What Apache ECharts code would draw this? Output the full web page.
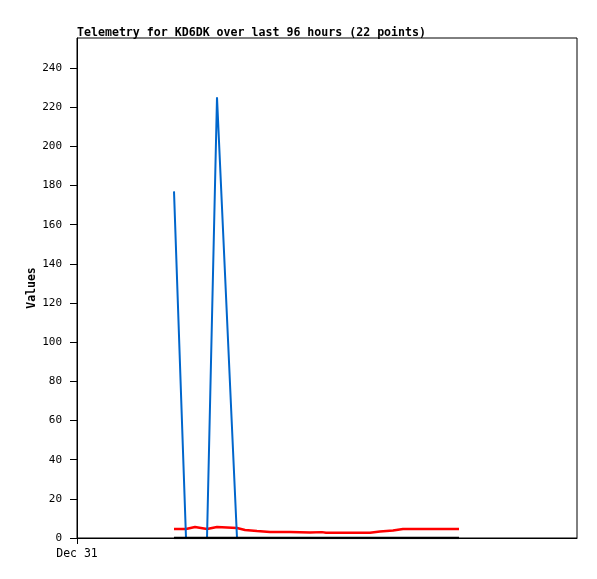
<!DOCTYPE html>
<html><head><meta charset="utf-8">
<script src="https://cdn.jsdelivr.net/npm/echarts@6/dist/echarts.min.js"></script>
<style>html,body{margin:0;padding:0;background:#fff}#c{width:597px;height:579px}</style>
</head><body><div id="c"></div>
<script>
// hours since Dec 31 00:00
const hours = [24.25, 27.25, 29.5, 32.5, 35, 40, 42, 45, 48.25, 53.25, 58.25, 61.25, 62.25, 68.25, 73.25, 75.75, 79, 81.5, 85.75, 90.75, 93.25, 95.5];
const blueValues = [177, 0, 0, 0, 225, 0, 0, 0, 0, 0, 0, 0, 0, 0, 0, 0, 0, 0, 0, 0, 0, 0];
const redValues = [4.6, 4.6, 5.6, 4.6, 5.6, 5.1, 4.1, 3.6, 3.1, 3.1, 2.8, 3.0, 2.7, 2.7, 2.7, 3.3, 3.8, 4.6, 4.6, 4.6, 4.6, 4.6];
const blackValues = [0, 0, 0, 0, 0, 0, 0, 0, 0, 0, 0, 0, 0, 0, 0, 0, 0, 0, 0, 0, 0, 0];
const xTickLabels = {0: 'Dec 31'};

const zip = v => hours.map((h, i) => [h, v[i]]);
const font = 'DejaVu Sans Mono';
const chart = echarts.init(document.getElementById('c'));
chart.setOption({
  animation: false,
  title: {text: 'Telemetry for KD6DK over last 96 hours (22 points)', left: 72, top: 22,
    textStyle: {fontFamily: font, fontSize: 11.6, fontWeight: 'bold', color: '#000'}},
  grid: {left: 77, top: 38, width: 500, height: 500, show: true, borderColor: '#000', borderWidth: 1, containLabel: false},
  xAxis: {type: 'value', min: 0, max: 125, interval: 125,
    axisLine: {lineStyle: {color: '#000', width: 1}},
    axisTick: {show: true, length: 6, customValues: [0], lineStyle: {color: '#000'}},
    splitLine: {show: false},
    axisLabel: {customValues: [0], formatter: v => xTickLabels[v] || '', fontFamily: font, fontSize: 11.5, color: '#000', margin: 10}},
  yAxis: {type: 'value', min: 0, max: 255.3, interval: 20, name: 'Values', nameLocation: 'middle', nameGap: 39, nameMoveOverlap: false,
    nameTextStyle: {fontFamily: font, fontSize: 11.5, fontWeight: 'bold', color: '#000'},
    axisLine: {show: true, lineStyle: {color: '#000', width: 1}},
    axisTick: {show: true, length: 7, lineStyle: {color: '#000'}},
    splitLine: {show: false},
    axisLabel: {fontFamily: font, fontSize: 11, color: '#000', margin: 15, showMaxLabel: false}},
  series: [
    {type: 'line', data: zip(redValues), symbol: 'none', lineStyle: {color: '#ff0000', width: 2.5}, z: 2},
    {type: 'line', data: zip(blueValues), symbol: 'none', lineStyle: {color: '#0066cc', width: 2}, z: 3},
    {type: 'line', data: zip(blackValues), symbol: 'none', lineStyle: {color: '#000', width: 2.5}, z: 4}
  ]
});
</script></body></html>
